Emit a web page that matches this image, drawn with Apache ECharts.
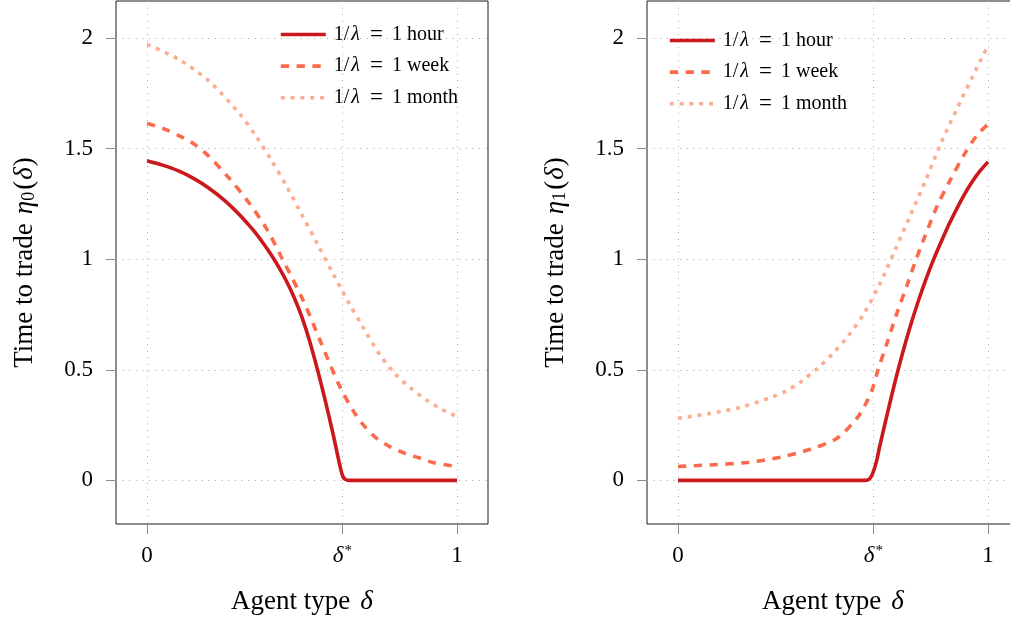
<!DOCTYPE html>
<html>
<head>
<meta charset="utf-8">
<script src="https://cdn.jsdelivr.net/npm/echarts@6/dist/echarts.min.js"></script>
<style>
  html, body { margin: 0; padding: 0; background: #ffffff; }
  #chart { width: 1010px; height: 618px; }
</style>
</head>
<body>
<div id="chart"></div>
<script>
// Threshold agent type and axis ticks
const deltaStar = 0.63;
const xTicks = [0, deltaStar, 1];
const yTicks = [0, 0.5, 1, 1.5, 2];

// Meeting-rate scenarios (legend entries)
const scenarioNames = ['1/λ = 1 hour', '1/λ = 1 week', '1/λ = 1 month'];

// Left panel: time to trade eta_0(delta)
const hourDelta0 = [0, 0.05, 0.1, 0.15, 0.2, 0.25, 0.3, 0.325, 0.35, 0.375, 0.4, 0.425, 0.45, 0.475, 0.5, 0.525, 0.55, 0.575, 0.6, 0.625, 0.633, 0.642, 0.655, 0.8, 1];
const hourEta0   = [1.445, 1.425, 1.400, 1.365, 1.321, 1.266, 1.199, 1.160, 1.119, 1.072, 1.021, 0.964, 0.900, 0.826, 0.737, 0.628, 0.500, 0.361, 0.211, 0.050, 0.015, 0.003, 0, 0, 0];

const weekDelta0 = [0, 0.057, 0.106, 0.149, 0.192, 0.261, 0.326, 0.385, 0.433, 0.503, 0.562, 0.622, 0.670, 0.702, 0.740, 0.783, 0.831, 0.880, 0.922, 1];
const weekEta0   = [1.613, 1.588, 1.556, 1.523, 1.475, 1.372, 1.260, 1.139, 1.011, 0.816, 0.620, 0.424, 0.304, 0.244, 0.191, 0.153, 0.123, 0.101, 0.081, 0.063];

const monthDelta0 = [0, 0.1, 0.2, 0.3, 0.35, 0.4, 0.45, 0.5, 0.55, 0.6, 0.65, 0.7, 0.75, 0.8, 0.85, 0.9, 0.95, 1];
const monthEta0   = [1.971, 1.905, 1.805, 1.655, 1.560, 1.450, 1.330, 1.200, 1.068, 0.935, 0.805, 0.685, 0.570, 0.482, 0.418, 0.365, 0.322, 0.289];

// Right panel: time to trade eta_1(delta)
const hourDelta1 = [0, 0.3, 0.6, 0.615, 0.626, 0.64, 0.65, 0.675, 0.7, 0.725, 0.75, 0.775, 0.8, 0.825, 0.85, 0.875, 0.9, 0.925, 0.95, 0.975, 1];
const hourEta1   = [0, 0, 0, 0.004, 0.025, 0.085, 0.15, 0.30, 0.445, 0.578, 0.700, 0.810, 0.910, 1.000, 1.082, 1.160, 1.230, 1.295, 1.352, 1.400, 1.440];

const weekDelta1 = [0, 0.115, 0.223, 0.330, 0.427, 0.513, 0.577, 0.604, 0.626, 0.644, 0.674, 0.706, 0.739, 0.768, 0.792, 0.835, 0.878, 0.922, 0.965, 1];
const weekEta1   = [0.063, 0.071, 0.081, 0.105, 0.141, 0.191, 0.281, 0.342, 0.409, 0.494, 0.620, 0.755, 0.883, 0.999, 1.087, 1.237, 1.357, 1.470, 1.561, 1.610];

const monthDelta1 = [0, 0.1, 0.2, 0.3, 0.35, 0.4, 0.45, 0.5, 0.55, 0.6, 0.65, 0.7, 0.75, 0.8, 0.85, 0.9, 0.95, 1];
const monthEta1   = [0.281, 0.302, 0.330, 0.375, 0.405, 0.450, 0.507, 0.575, 0.655, 0.755, 0.885, 1.040, 1.200, 1.360, 1.530, 1.680, 1.825, 1.967];

const colors = ['#cb181d', '#fb6a4a', '#fcae91'];
const dashes = ['solid', [8.3, 7.5], [4, 5.8]];
const serif = 'Liberation Serif, Times New Roman, serif';

const zip = (xs, ys) => xs.map((x, i) => [x, ys[i]]);

const titleSize = 27;
const tickSize = 23;
const gridLine = { show: true, lineStyle: { color: '#a6a6a6', width: 1, type: [1, 5.6] } };

function makeXAxis(gridIndex) {
  return {
    type: 'value', gridIndex, min: -0.1, max: 1.1,
    name: 'Agent type{it|δ}', nameLocation: 'middle', nameGap: 64,
    nameTextStyle: {
      fontFamily: serif, fontSize: titleSize, color: '#000',
      rich: { it: { fontFamily: serif, fontStyle: 'italic', fontSize: titleSize, color: '#000', padding: [0, 0, 0, 10] } }
    },
    axisLine: { show: false, onZero: false },
    axisTick: { show: true, inside: false, length: 10, customValues: xTicks, lineStyle: { color: '#8c8c8c', width: 1 } },
    axisLabel: {
      customValues: xTicks, margin: 20, fontFamily: serif, fontSize: tickSize, color: '#000',
      formatter: v => Math.abs(v - deltaStar) < 1e-9 ? '{it|δ}{sup|*}' : String(v),
      rich: {
        it: { fontFamily: serif, fontStyle: 'italic', fontSize: tickSize, color: '#000' },
        sup: { fontFamily: serif, fontSize: 15, color: '#000', verticalAlign: 'top', padding: [0, 0, 7, 1] }
      }
    },
    splitLine: gridLine
  };
}

function makeYAxis(gridIndex, sub) {
  return {
    type: 'value', gridIndex, min: -0.197, max: 2.167,
    name: 'Time to trade{it|η}{sub|' + sub + '}{n|(}{it2|δ}{n|)}',
    nameLocation: 'middle', nameGap: 78, nameRotate: 90,
    nameTextStyle: {
      fontFamily: serif, fontSize: titleSize, color: '#000',
      rich: {
        it: { fontFamily: serif, fontStyle: 'italic', fontSize: titleSize, color: '#000', padding: [0, 0, 0, 9] },
        it2: { fontFamily: serif, fontStyle: 'italic', fontSize: titleSize, color: '#000', padding: [0, 1, 0, 1] },
        n: { fontFamily: serif, fontSize: titleSize, color: '#000' },
        sub: { fontFamily: serif, fontSize: 18, color: '#000', verticalAlign: 'bottom', padding: [0, 2, 0, 0] }
      }
    },
    axisLine: { show: false, onZero: false },
    axisTick: { show: true, inside: false, length: 10, customValues: yTicks, lineStyle: { color: '#8c8c8c', width: 1 } },
    axisLabel: {
      customValues: yTicks, margin: 23, fontFamily: serif, fontSize: tickSize, color: '#000',
      formatter: v => String(v)
    },
    splitLine: gridLine
  };
}

function makeLegend(left, top) {
  const base = { fontFamily: serif, fontSize: 20, color: '#000', lineHeight: 20 };
  return {
    left, top, orient: 'vertical', padding: 0, itemGap: 8.6,
    itemWidth: 45, itemHeight: 14,
    data: scenarioNames,
    lineStyle: { width: 3.6 },
    itemStyle: { opacity: 0, borderWidth: 0 },
    formatter: name => {
      const rest = name.split('= ')[1];
      return '{n|1/}{it|λ}{eq|=}{n|' + rest + '}';
    },
    textStyle: {
      ...base, padding: [0, 0, 0, 3],
      rich: {
        n: base,
        it: { ...base, fontStyle: 'italic', padding: [0, 0, 0, 2] },
        eq: { ...base, fontSize: 23, padding: [0, 9, 0, 10] }
      }
    }
  };
}

function makeSeries(idx, name, data, k) {
  return {
    type: 'line', name, xAxisIndex: idx, yAxisIndex: idx,
    data, showSymbol: false, symbol: 'none',
    smooth: 0.3,
    lineStyle: { color: colors[k], width: 3.6, type: dashes[k], cap: 'butt' },
    itemStyle: { color: colors[k] },
    z: 10 - k, silent: true, animation: false
  };
}

const chart = echarts.init(document.getElementById('chart'), null, { renderer: 'canvas' });
chart.setOption({
  animation: false,
  backgroundColor: '#ffffff',
  grid: [
    { left: 116, right: 522, top: 1, bottom: 94, outerBoundsMode: 'none', containLabel: false,
      show: true, borderColor: '#1a1a1a', borderWidth: 1, backgroundColor: 'transparent' },
    { left: 647, right: -9, top: 1, bottom: 94, outerBoundsMode: 'none', containLabel: false,
      show: true, borderColor: '#1a1a1a', borderWidth: 1, backgroundColor: 'transparent' }
  ],
  xAxis: [makeXAxis(0), makeXAxis(1)],
  yAxis: [makeYAxis(0, '0'), makeYAxis(1, '1')],
  legend: [makeLegend(279, 23), makeLegend(668, 29)],
  series: [
    makeSeries(0, scenarioNames[0], zip(hourDelta0, hourEta0), 0),
    makeSeries(0, scenarioNames[1], zip(weekDelta0, weekEta0), 1),
    makeSeries(0, scenarioNames[2], zip(monthDelta0, monthEta0), 2),
    makeSeries(1, scenarioNames[0], zip(hourDelta1, hourEta1), 0),
    makeSeries(1, scenarioNames[1], zip(weekDelta1, weekEta1), 1),
    makeSeries(1, scenarioNames[2], zip(monthDelta1, monthEta1), 2)
  ]
});
</script>
</body>
</html>
